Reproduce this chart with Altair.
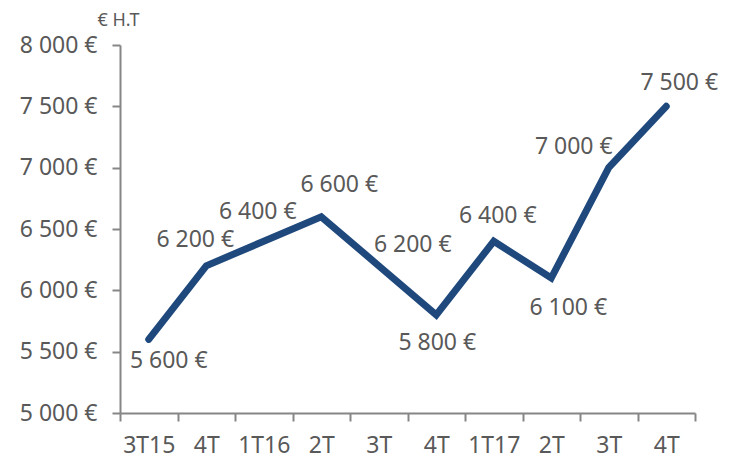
import altair as alt
import pandas as pd

# ---- data ----
quarters = ["3T15", "4T", "1T16", "2T", "3T", "4T", "1T17", "2T", "3T", "4T"]
prices = [5600, 6200, 6400, 6600, 6200, 5800, 6400, 6100, 7000, 7500]
y_ticks = [5000, 5500, 6000, 6500, 7000, 7500, 8000]

# label placement (dx, dy) around each point, as in the reference
label_offsets = [(20, 22), (-11, -26), (-6, -29), (18, -32), (34, -21),
                 (1, 28), (4, -25), (17, 30), (-35, -21), (13, -23)]

df = pd.DataFrame({"i": list(range(len(quarters))), "q": quarters, "v": prices})
df["label"] = [f"{v:,}".replace(",", " ") + " €" for v in prices]

FONT = "Noto Sans"
FS = 23
GREY_TXT = "#595959"
GREY_AX = "#868686"
BLUE = "#1f497d"

label_array = "[" + ",".join(f"'{q}'" for q in quarters) + "]"

x_enc = alt.X(
    "i:O",
    scale=alt.Scale(type="band", paddingInner=0, paddingOuter=0),
    axis=alt.Axis(
        title=None,
        labelExpr=f"{label_array}[datum.value]",
        tickBand="extent",
        labelAngle=0,
        labelFont=FONT,
        labelFontSize=FS,
        labelColor=GREY_TXT,
        labelPadding=13,
        tickSize=8,
        tickWidth=2,
        tickColor=GREY_AX,
        domainColor=GREY_AX,
        domainWidth=2,
        grid=False,
    ),
)

y_enc = alt.Y(
    "v:Q",
    scale=alt.Scale(domain=[5000, 8000], nice=False, zero=False),
    axis=alt.Axis(
        values=y_ticks,
        labelExpr="replace(format(datum.value, ',.0f'), ',', ' ') + ' €'",
        labelFont=FONT,
        labelFontSize=FS,
        labelColor=GREY_TXT,
        labelPadding=15,
        tickSize=8,
        tickWidth=2,
        tickColor=GREY_AX,
        domainColor=GREY_AX,
        domainWidth=2,
        grid=False,
        title="€ H.T",
        titleAngle=0,
        titleAlign="left",
        titleBaseline="middle",
        titleX=-23,
        titleY=-25,
        titleFont=FONT,
        titleFontSize=18,
        titleFontWeight="normal",
        titleColor=GREY_TXT,
    ),
)

base = alt.Chart(df)

line = base.mark_line(color=BLUE, strokeWidth=7, strokeCap="round", strokeJoin="miter").encode(
    x=x_enc, y=y_enc
)

texts = []
for idx, (dx, dy) in enumerate(label_offsets):
    texts.append(
        base.transform_filter(alt.datum.i == idx)
        .mark_text(dx=dx, dy=dy, font=FONT, fontSize=FS, color=GREY_TXT,
                   align="center", baseline="middle")
        .encode(x=alt.X("i:O"), y=alt.Y("v:Q"), text="label:N")
    )

chart = (
    alt.layer(line, *texts)
    .properties(
        width=575,
        height=368,
        autosize=alt.AutoSizeParams(type="none"),
        padding={"left": 112, "top": 37, "right": 33, "bottom": 47},
    )
    .configure_view(stroke=None)
)

chart.save("out.html", embed_options={"renderer": "svg", "actions": False})
